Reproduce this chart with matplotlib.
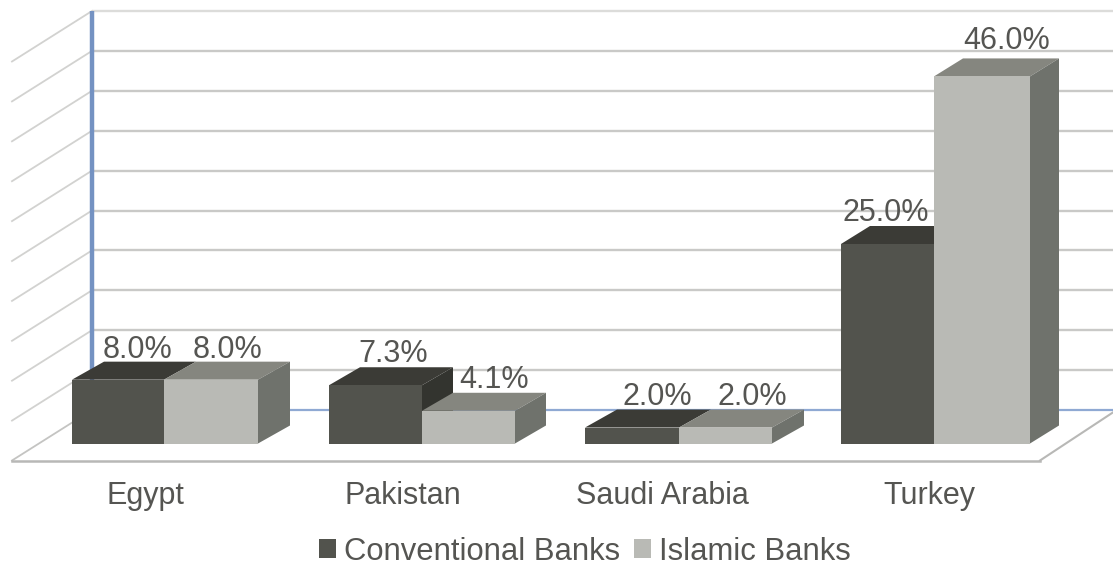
import matplotlib
matplotlib.use("Agg")
import matplotlib.pyplot as plt
from matplotlib.patches import Polygon

# Chart values
countries = ["Egypt", "Pakistan", "Saudi Arabia", "Turkey"]
conventional = [8.0, 7.3, 2.0, 25.0]
islamic = [8.0, 4.1, 2.0, 46.0]
grid_levels = [5, 10, 15, 20, 25, 30, 35, 40, 45, 50]

# Layout: x is measured in figure pixels, y in percentage points
W, H = 1113, 565
PX_PER_UNIT = 7.98
BASE_PX = 443.5
conv_left = [72, 329, 585, 841]
conv_width = [92, 93, 94, 93]
isl_width = [94, 93, 93, 96]
depth_xs = [32, 31, 32, 29]
depth_y = 18 / PX_PER_UNIT
wall_lift = (BASE_PX - 410) / PX_PER_UNIT
wall_x, wall_front_x = 92, 12
wall_drop = 50.5 / PX_PER_UNIT
floor_right_front = 1040

conv_label_x = [137, 393, 657, 886]
isl_label_x = [228, 494, 752, 1007]
isl_label_dy = [30, 31, 31, 35]
conv_label_dy = [30, 31, 31, 31]
cat_x = [145, 403, 662, 929]

plt.rcParams["font.family"] = "Liberation Sans"
TEXT = "#555552"
FS = 22

fig = plt.figure(figsize=(W / 100, H / 100), dpi=100)
ax = fig.add_axes([0, 0, 1, 1])
ax.set_xlim(0, W)
ax.set_ylim((BASE_PX - H) / PX_PER_UNIT, BASE_PX / PX_PER_UNIT)
ax.axis("off")


def px(v):
    """Convert a pixel row into the value scale of the y axis."""
    return (BASE_PX - v) / PX_PER_UNIT


# Back wall gridlines and the matching lines on the side wall
for g in grid_levels:
    y = g + wall_lift
    c = "#dcdcda" if g == 50 else "#c9c9c7"
    ax.plot([wall_x, W], [y, y], color=c, lw=1.7, zorder=1, solid_capstyle="butt")
    ax.plot([wall_front_x, wall_x], [y - wall_drop, y], color="#d2d2d0", lw=1.3, zorder=1)

# Floor outline
floor_y = px(460.5)
ax.plot([wall_front_x, wall_x], [floor_y, wall_lift], color="#c4c4c2", lw=1.3, zorder=1)
ax.plot([wall_front_x, floor_right_front], [floor_y, floor_y], color="#b8b8b6", lw=1.8, zorder=1)
ax.plot([floor_right_front, W], [floor_y, wall_lift - 0.3], color="#b8b8b6", lw=1.5, zorder=1)

# Blue axis edges
ax.plot([wall_x, wall_x], [wall_lift, 50 + wall_lift], color="#7492c2", lw=3.2, zorder=2,
        solid_capstyle="butt")
ax.plot([wall_x, W], [wall_lift, wall_lift], color="#8fa9d3", lw=1.6, zorder=2)


def draw_series(values, lefts, widths, neighbours, front, top, side, label, z):
    """Draw one series as extruded bars; a side face hidden by the next bar is skipped."""
    for x0, w, v, d, n in zip(lefts, widths, values, depth_xs, neighbours):
        x1 = x0 + w
        ax.add_patch(Polygon([(x0, v), (x1, v), (x1 + d, v + depth_y), (x0 + d, v + depth_y)],
                             closed=True, fc=top, ec="none", zorder=z))
        if v > n:
            ax.add_patch(Polygon([(x1, 0), (x1 + d, depth_y), (x1 + d, v + depth_y), (x1, v)],
                                 closed=True, fc=side, ec="none", zorder=z))
    return ax.bar(lefts, values, width=widths, align="edge", color=front, zorder=z + 0.5, label=label)


isl_left = [x + w for x, w in zip(conv_left, conv_width)]
h1 = draw_series(conventional, conv_left, conv_width, islamic,
                 "#52534d", "#3b3b36", "#33342f", "Conventional Banks", 3)
h2 = draw_series(islamic, isl_left, isl_width, [-1] * len(islamic),
                 "#b9bab5", "#85867f", "#6f726c", "Islamic Banks", 4)

# Value labels above the bars
for i, v in enumerate(conventional):
    ax.text(conv_label_x[i], v + conv_label_dy[i] / PX_PER_UNIT,
            f"{v:.1f}%", ha="center", va="center", color=TEXT, fontsize=FS, zorder=6)
for i, v in enumerate(islamic):
    ax.text(isl_label_x[i], v + isl_label_dy[i] / PX_PER_UNIT,
            f"{v:.1f}%", ha="center", va="center", color=TEXT, fontsize=FS, zorder=6)

# Category labels
for x, name in zip(cat_x, countries):
    ax.text(x, px(496), name, ha="center", va="center", color=TEXT, fontsize=FS, zorder=6)

ax.legend(handles=[h1, h2], loc="center", bbox_to_anchor=(585 / W, 1 - 551.5 / H), ncol=2,
          frameon=False, fontsize=22.3, labelcolor=TEXT, handlelength=0.55, handleheight=0.55,
          handletextpad=0.25, columnspacing=0.45, borderpad=0)

fig.savefig("out.png", dpi=100)
